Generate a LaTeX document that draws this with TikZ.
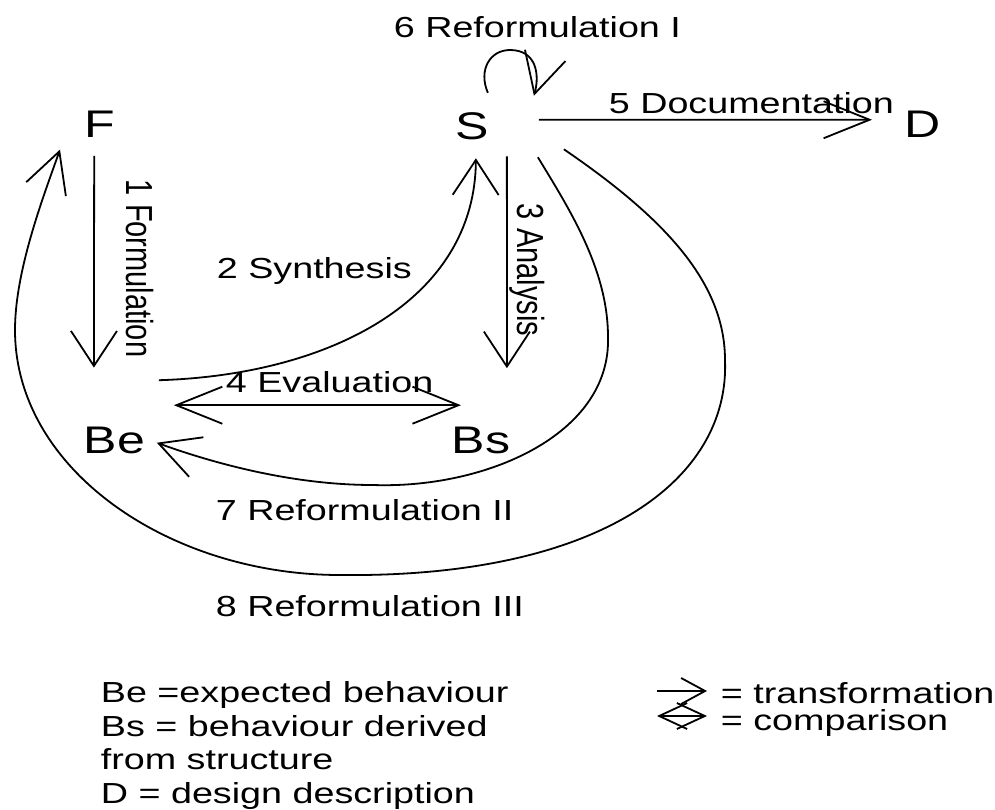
\documentclass[tikz,border=0pt]{standalone}
\usepackage{fontspec}
\usepackage{graphicx}
\setmainfont{Liberation Sans}
\usetikzlibrary{arrows.meta,calc}
\newcommand{\hstr}[1]{\scalebox{1.3}[1]{#1}}
\newcommand{\vstr}[1]{\scalebox{1.3}[1]{\rotatebox{-90}{#1}}}
\begin{document}
\begin{tikzpicture}[x=1bp,y=-1bp,line width=1.8bp,
  big/.style={font=\fontsize{38.5bp}{40bp}\selectfont,inner sep=0pt,anchor=base west},
  lbl/.style={font=\fontsize{29bp}{32bp}\selectfont,inner sep=0pt,anchor=base west},
  vlbl/.style={font=\fontsize{29bp}{32bp}\selectfont,inner sep=0pt,anchor=north west},
  tipA/.style={-{Straight Barb[length=35bp,width=46bp]}},
  tipB/.style={-{Straight Barb[length=46bp,width=37bp]}},
  tipBB/.style={{Straight Barb[length=46bp,width=37bp]}-{Straight Barb[length=46bp,width=37bp]}},
  tipC/.style={-{Straight Barb[length=40bp,width=42bp]}},
  tipS/.style={-{Straight Barb[length=24bp,width=26bp]}},
  tipSS/.style={{Straight Barb[length=28bp,width=26bp]}-{Straight Barb[length=28bp,width=26bp]}}]
\useasboundingbox (0,0) rectangle (995,810);

% main nodes
\node[big] (F)  at (84,137)  {\hstr{F}};
\node[big] (S)  at (455,139) {\hstr{S}};
\node[big] (D)  at (904,137) {\hstr{D}};
\node[big] (Be) at (83,453)  {\hstr{Be}};
\node[big] (Bs) at (451,453) {\hstr{Bs}};

% labels
\node[lbl] (l6) at (393,38)  {\hstr{6 Reformulation I}};
\node[lbl] (l5) at (608,113) {\hstr{5 Documentation}};
\node[lbl] (l2) at (216,278) {\hstr{2 Synthesis}};
\node[lbl] (l4) at (225,392) {\hstr{4 Evaluation}};
\node[lbl] (l7) at (215,520) {\hstr{7 Reformulation II}};
\node[lbl] (l8) at (215,616) {\hstr{8 Reformulation III}};
\node[vlbl] (l1) at (125,179) {\vstr{1 Formulation}};
\node[vlbl] (l3) at (509,203) {\vstr{3 Analysis}};

% connectors
\draw[tipA] ($(F.south)+(-6,18)$) -- ($(Be.north)+(-20.6,-58)$);
\draw[tipA] ($(Be.north)+(44.4,-45.4)$) .. controls (330,375) and (475,300) .. ($(S.south)+(3.3,18)$);
\draw[tipA] ($(S.south)+(34.3,16)$) -- ($(Bs.north)+(25.8,-57.4)$);
\draw[tipBB] ($(Be.north)+(59.4,-20.4)$) -- ($(Bs.north)+(-20.2,-20.4)$);
\draw[tipB] ($(S.east)+(48.6,-6)$) -- ($(D.west)+(-32,-4)$);
\draw[tipC] ($(S.north)+(15.3,-18.4)$) .. controls (478,70) and (490,50) .. (510,50)
   .. controls (536,50) and (540,74) .. ($(S.north)+(61.3,-15.4)$);
\draw[tipC] ($(S.south)+(65.3,17)$) .. controls (570,210) and (608,270) .. (608,337)
   .. controls (611,435) and (485,489) .. (373,485)
   .. controls (290,485) and (210,462) .. ($(Be.east)+(10.8,2.8)$);
\draw[tipC] ($(S.south)+(91.3,9)$) .. controls (660,215) and (725,280) .. (725,360)
   .. controls (730,480) and (600,578) .. (340,575)
   .. controls (170,575) and (15,470) .. (15,330)
   .. controls (15,270) and (44,195) .. ($(F.west)+(-24,25.8)$);

% legend
\node[lbl] (k1) at (100,702) {\hstr{Be =expected behaviour}};
\node[lbl] (k2) at (100,736) {\hstr{Bs = behaviour derived}};
\node[lbl] (k3) at (100,769) {\hstr{from structure}};
\node[lbl] (k4) at (100,803) {\hstr{D = design description}};
\node[lbl] (k5) at (720,703) {\hstr{= transformation}};
\node[lbl] (k6) at (720,730) {\hstr{= comparison}};
\draw[tipS] (657,691) -- (707,691);
\draw[tipSS] (657,716) -- (707,716);
\end{tikzpicture}
\end{document}
